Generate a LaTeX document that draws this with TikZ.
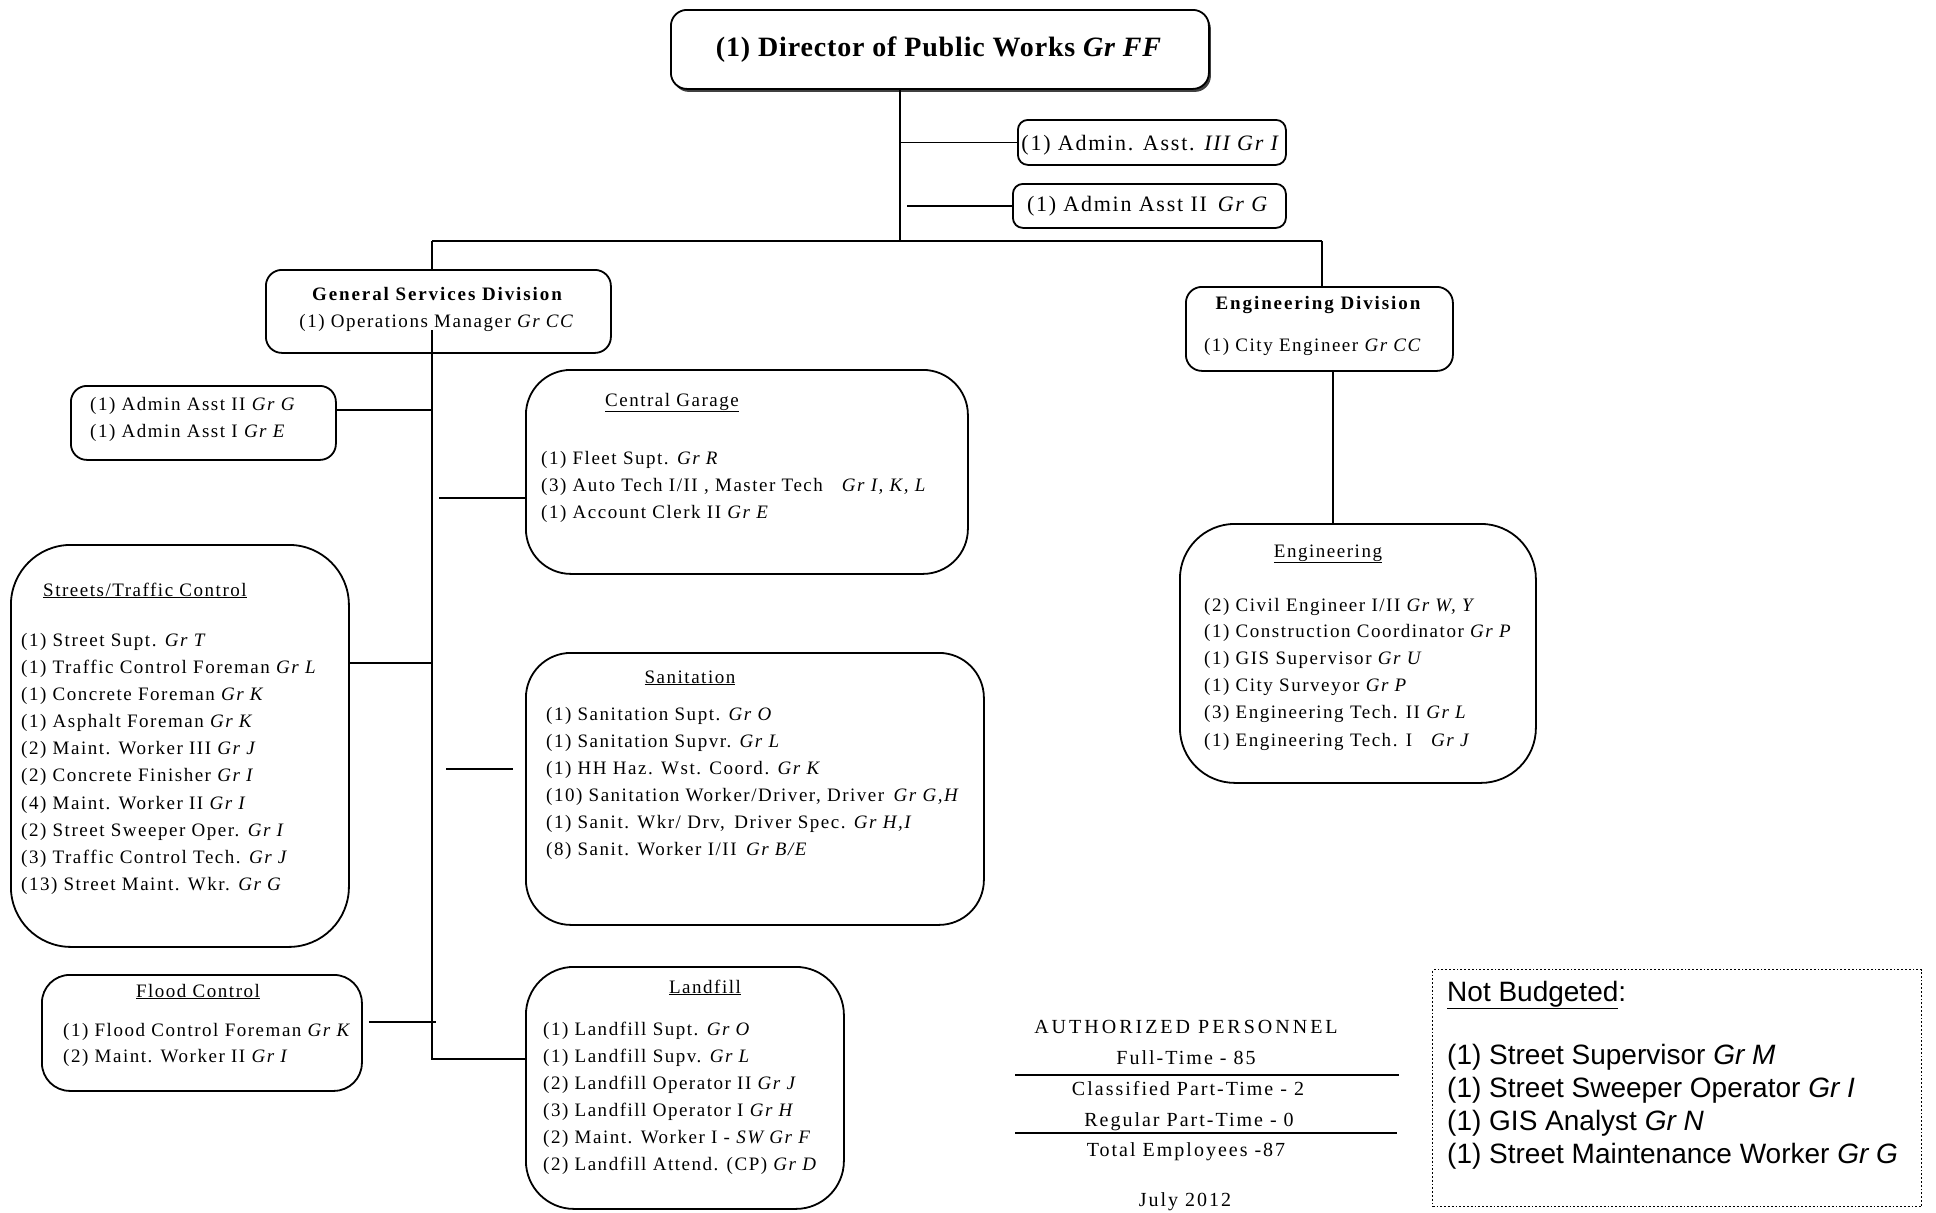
\documentclass[tikz,border=0pt]{standalone}
\usepackage{fontspec}
\setmainfont{Liberation Serif}
\newfontfamily\nbfont{Liberation Sans}
\newfontfamily\itemfont[LetterSpace=8]{Liberation Serif}
\newfontfamily\ttlfont[LetterSpace=10]{Liberation Serif}
\newfontfamily\dirfont[LetterSpace=3]{Liberation Serif}
\newfontfamily\apfont[LetterSpace=10]{Liberation Serif}
\newfontfamily\apcapfont[LetterSpace=15]{Liberation Serif}
\newcommand\grd[1]{\textit{Gr #1}}
\tikzset{
  box/.style={draw, line width=1.8pt, inner sep=0pt, fill=white, anchor=north west},
  conn/.style={line width=1.8pt},
  itm/.style={anchor=base west, inner sep=0pt, font=\fontsize{19pt}{22pt}\itemfont},
  ctr/.style={anchor=base, inner sep=0pt, font=\fontsize{19pt}{22pt}\itemfont},
  btl/.style={anchor=base, inner sep=0pt, font=\fontsize{19pt}{22pt}\ttlfont\bfseries},
  ap/.style={anchor=base, inner sep=0pt, font=\fontsize{20pt}{24pt}\apfont},
  nb/.style={anchor=base west, inner sep=0pt, font=\fontsize{28pt}{32pt}\nbfont},
}
\begin{document}
\begin{tikzpicture}[x=1pt,y=-1pt]
\clip (0,0) rectangle (1936,1213);
\fill[white] (0,0) rectangle (1936,1213);

% ---------- boxes ----------
\node[box, draw=none, fill=black!75, rounded corners=16pt, minimum width=538pt, minimum height=79pt] (dirsh) at (672,12) {};
\node[box, rounded corners=16pt, minimum width=538pt, minimum height=79pt] (dir) at (670,9) {};
\node[box, rounded corners=10pt, minimum width=268pt, minimum height=45pt] (a3) at (1017,119) {};
\node[box, rounded corners=10pt, minimum width=273pt, minimum height=44pt] (a2) at (1012,183) {};
\node[box, rounded corners=16pt, minimum width=345pt, minimum height=83pt] (gsd) at (265,269) {};
\node[box, rounded corners=16pt, minimum width=267pt, minimum height=84pt] (engd) at (1185,286) {};
\node[box, rounded corners=16pt, minimum width=265pt, minimum height=74pt] (adm) at (70,385) {};
\node[box, rounded corners=45pt, minimum width=442pt, minimum height=204pt] (cg) at (525,369) {};
\node[box, rounded corners=60pt, minimum width=338pt, minimum height=402pt] (st) at (10,544) {};
\node[box, rounded corners=45pt, minimum width=458pt, minimum height=272pt] (san) at (525,652) {};
\node[box, rounded corners=28pt, minimum width=320pt, minimum height=116pt] (fl) at (41,974) {};
\node[box, rounded corners=48pt, minimum width=318pt, minimum height=242pt] (lf) at (525,966) {};
\node[box, rounded corners=55pt, minimum width=356pt, minimum height=259pt] (eng) at (1179,523) {};
\node[box, dotted, line width=1.4pt, minimum width=489pt, minimum height=237pt] (nbx) at (1432,969) {};

% ---------- connectors ----------
\coordinate (j0) at (900,241);
\coordinate (jL) at (432,241);
\coordinate (jR) at (1322,241);
\coordinate (t0) at (432,330);
\coordinate (t1) at (432,1059);
\coordinate (cA) at (432,410);
\coordinate (cG) at (432,498);
\coordinate (cS) at (432,663);
\coordinate (cN) at (432,769);
\coordinate (cF) at (432,1022);
\coordinate (e1) at (1333,0);

\draw[conn] (dir.south -| j0) -- (j0);
\draw[conn] (a3.west -| j0) -- (a3.west);
\draw[conn, shorten >=7pt] (a2.west) -- (a2.west -| j0);
\draw[conn] (jL) -- (jR);
\draw[conn] (jL) -- (gsd.north -| jL);
\draw[conn] (jR) -- (engd.north -| jR);
\draw[conn] (t0) -- (t1) -- (lf.west |- t1);
\draw[conn] (adm.east |- cA) -- (cA);
\draw[conn, shorten <=7pt] (cG) -- (cg.west |- cG);
\draw[conn] (st.east |- cS) -- (cS);
\draw[conn, shorten <=14pt, shorten >=12pt] (cN) -- (san.west |- cN);
\draw[conn, shorten <=6pt, shorten >=-4pt] (fl.east |- cF) -- (cF);
\draw[conn] (engd.south -| e1) -- (eng.north -| e1);

% ---------- texts ----------
\node[anchor=base, inner sep=0pt, font=\fontsize{28pt}{32pt}\dirfont\bfseries] (dirt) at (939,56) {(1) Director of Public Works \textit{Gr FF}};
\node[anchor=base, inner sep=0pt, font=\fontsize{22pt}{26pt}\itemfont] (a3t) at (1151,150) {(1) Admin. Asst. \textit{III Gr I}};
\node[anchor=base, inner sep=0pt, font=\fontsize{22pt}{26pt}\itemfont] (a2t) at (1148,211) {(1) Admin Asst II\, \grd{G}};

\node[btl] (gsd1) at (437,300) {General Services Division};
\node[ctr] (gsd2) at (437,327) {(1) Operations Manager \grd{CC}};
\node[btl] (engd1) at (1318,309) {Engineering Division};
\node[ctr] (engd2) at (1313,351) {(1) City Engineer \grd{CC}};

\node[itm] (adm1) at (90,410) {(1) Admin Asst II \grd{G}};
\node[itm] (adm2) at (90,437) {(1) Admin Asst I \grd{E}};

\node[ctr] (cgt) at (672,406) {\underline{Central Garage}};
\node[itm] (cg1) at (541,464) {(1) Fleet Supt. \grd{R}};
\node[itm] (cg2) at (541,491) {(3) Auto Tech I/II , Master Tech\quad \grd{I, K, L}};
\node[itm] (cg3) at (541,518) {(1) Account Clerk II \grd{E}};

\node[anchor=base west, inner sep=0pt, font=\fontsize{19pt}{22pt}\itemfont] (stt) at (43,596) {\underline{Streets/Traffic Control}};
\node[itm] (st1) at (21,646) {(1) Street Supt. \grd{T}};
\node[itm] (st2) at (21,673) {(1) Traffic Control Foreman \grd{L}};
\node[itm] (st3) at (21,700) {(1) Concrete Foreman \grd{K}};
\node[itm] (st4) at (21,727) {(1) Asphalt Foreman \grd{K}};
\node[itm] (st5) at (21,754) {(2) Maint. Worker III \grd{J}};
\node[itm] (st6) at (21,781) {(2) Concrete Finisher \grd{I}};
\node[itm] (st7) at (21,809) {(4) Maint. Worker II \grd{I}};
\node[itm] (st8) at (21,836) {(2) Street Sweeper Oper. \grd{I}};
\node[itm] (st9) at (21,863) {(3) Traffic Control Tech. \grd{J}};
\node[itm] (st10) at (21,890) {(13) Street Maint. Wkr. \grd{G}};

\node[ctr] (sant) at (690,683) {\underline{Sanitation}};
\node[itm] (san1) at (546,720) {(1) Sanitation Supt. \grd{O}};
\node[itm] (san2) at (546,747) {(1) Sanitation Supvr. \grd{L}};
\node[itm] (san3) at (546,774) {(1) HH Haz. Wst. Coord. \grd{K}};
\node[itm] (san4) at (546,801) {(10) Sanitation Worker/Driver, Driver\, \grd{G,H}};
\node[itm] (san5) at (546,828) {(1) Sanit. Wkr/ Drv,\, Driver Spec. \grd{H,I}};
\node[itm] (san6) at (546,855) {(8) Sanit. Worker I/II\, \grd{B/E}};

\node[ctr] (flt) at (198,997) {\underline{Flood Control}};
\node[itm] (fl1) at (63,1036) {(1) Flood Control Foreman \grd{K}};
\node[itm] (fl2) at (63,1062) {(2) Maint. Worker II \grd{I}};

\node[ctr] (lft) at (705,993) {\underline{Landfill}};
\node[itm] (lf1) at (543,1035) {(1) Landfill Supt. \grd{O}};
\node[itm] (lf2) at (543,1062) {(1) Landfill Supv. \grd{L}};
\node[itm] (lf3) at (543,1089) {(2) Landfill Operator II \grd{J}};
\node[itm] (lf4) at (543,1116) {(3) Landfill Operator I \grd{H}};
\node[itm] (lf5) at (543,1143) {(2) Maint. Worker I - \textit{SW Gr F}};
\node[itm] (lf6) at (543,1170) {(2) Landfill Attend. (CP) \grd{D}};

\node[ctr] (engt) at (1328,557) {\underline{Engineering}};
\node[itm] (eng1) at (1204,611) {(2) Civil Engineer I/II \grd{W, Y}};
\node[itm] (eng2) at (1204,637) {(1) Construction Coordinator \grd{P}};
\node[itm] (eng3) at (1204,664) {(1) GIS Supervisor \grd{U}};
\node[itm] (eng4) at (1204,691) {(1) City Surveyor \grd{P}};
\node[itm] (eng5) at (1204,718) {(3) Engineering Tech. II \grd{L}};
\node[itm] (eng6) at (1204,746) {(1) Engineering Tech. I\quad \grd{J}};

% ---------- authorized personnel ----------
\node[anchor=base, inner sep=0pt, font=\fontsize{20pt}{24pt}\apcapfont] (ap0) at (1186,1033) {AUTHORIZED PERSONNEL};
\node[ap] (ap1) at (1186,1064) {Full-Time - 85};
\node[ap] (ap2) at (1188,1095) {Classified Part-Time - 2};
\node[ap] (ap3) at (1189,1126) {Regular Part-Time - 0};
\node[ap] (ap4) at (1186,1156) {Total Employees -87};
\node[ap] (ap5) at (1185,1206) {July 2012};
\draw[conn] (1015,1075) -- (1399,1075);
\draw[conn] (1015,1133) -- (1397,1133);

% ---------- not budgeted ----------
\node[nb] (nb0) at (1447,1001) {\underline{Not Budgeted}:};
\node[nb] (nb1) at (1447,1064) {(1) Street Supervisor \grd{M}};
\node[nb] (nb2) at (1447,1097) {(1) Street Sweeper Operator \grd{I}};
\node[nb] (nb3) at (1447,1130) {(1) GIS Analyst \grd{N}};
\node[nb] (nb4) at (1447,1163) {(1) Street Maintenance Worker \grd{G}};
\end{tikzpicture}
\end{document}
